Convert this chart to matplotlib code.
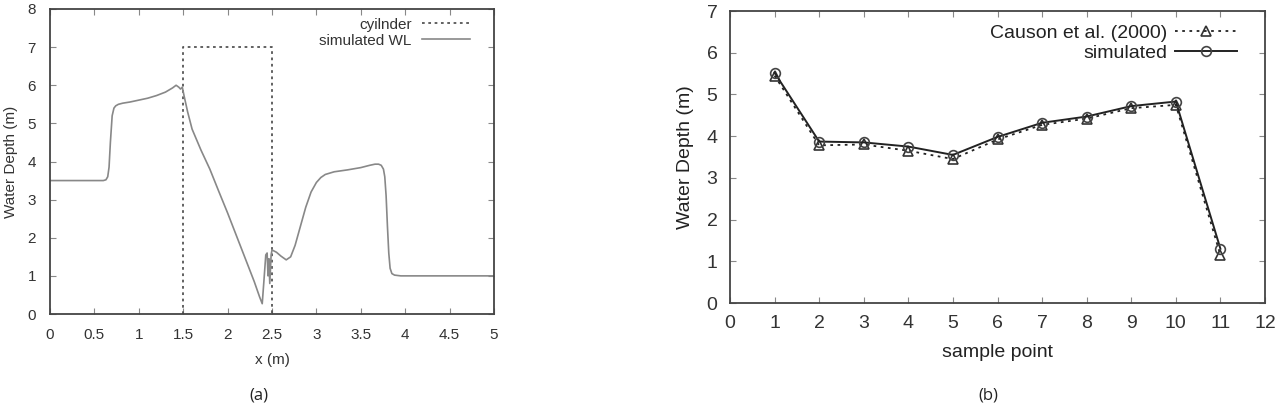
import matplotlib
matplotlib.use("Agg")
import matplotlib.pyplot as plt
import numpy as np

plt.rcParams['font.family'] = ['Liberation Sans', 'DejaVu Sans']

# (a) water level profile along the channel
x_wl = [0.0, 0.6, 0.63, 0.65, 0.665, 0.68, 0.70, 0.72, 0.74, 0.77, 0.82, 0.9, 1.0, 1.1,
        1.2, 1.3, 1.38, 1.42, 1.45, 1.47, 1.49, 1.51, 1.55, 1.6, 1.7, 1.8, 1.9, 2.0, 2.1,
        2.2, 2.3, 2.36, 2.39, 2.41, 2.43, 2.445, 2.455, 2.465, 2.475, 2.49, 2.5, 2.55, 2.6,
        2.66, 2.71, 2.76, 2.82, 2.88, 2.94, 3.0, 3.05, 3.1, 3.2, 3.35, 3.5, 3.6, 3.66, 3.7,
        3.73, 3.755, 3.77, 3.785, 3.8, 3.815, 3.83, 3.85, 3.88, 3.95, 4.2, 5.0]
y_wl = [3.5, 3.5, 3.52, 3.6, 3.85, 4.5, 5.2, 5.4, 5.46, 5.5, 5.53, 5.56, 5.61, 5.66,
        5.73, 5.82, 5.93, 6.0, 5.95, 5.9, 5.95, 5.72, 5.3, 4.85, 4.3, 3.8, 3.22, 2.65, 2.05,
        1.45, 0.85, 0.45, 0.27, 0.9, 1.55, 1.6, 1.0, 1.45, 0.8, 1.55, 1.68, 1.62, 1.52,
        1.42, 1.5, 1.8, 2.3, 2.8, 3.2, 3.45, 3.58, 3.66, 3.73, 3.78, 3.84, 3.9, 3.93, 3.93,
        3.9, 3.8, 3.6, 3.1, 2.3, 1.6, 1.2, 1.06, 1.02, 1.0, 1.0, 1.0]
cyl_x = [1.5, 1.5, 2.5, 2.5]
cyl_y = [0.0, 7.0, 7.0, 0.0]

# (b) water depth at sample points
points = [1, 2, 3, 4, 5, 6, 7, 8, 9, 10, 11]
causon = [5.45, 3.78, 3.8, 3.65, 3.45, 3.92, 4.27, 4.42, 4.67, 4.75, 1.15]
simulated = [5.52, 3.87, 3.85, 3.75, 3.55, 3.98, 4.32, 4.47, 4.72, 4.83, 1.3]

fig = plt.figure(figsize=(12.81, 4.16), dpi=100)
W, H = 1281, 416

def frame(ax, fs, pad):
    for s in ax.spines.values():
        s.set_color('#444444')
        s.set_linewidth(1.3)
    ax.tick_params(direction='in', top=True, right=True, length=4, width=0.8,
                   color='#888888', labelsize=fs, labelcolor='#333333', pad=pad)

ax1 = fig.add_axes([50 / W, 1 - 314 / H, 444 / W, 305 / H])
ax1.plot(cyl_x, cyl_y, color='#555555', lw=1.3, ls=(0, (1.5, 2)), label='cyilnder')
ax1.plot(x_wl, y_wl, color='#888888', lw=1.2, label='simulated WL')
ax1.set_xlim(0, 5)
ax1.set_ylim(0, 8)
ax1.set_xticks(np.arange(0, 5.01, 0.5))
ax1.set_xticklabels(['0', '0.5', '1', '1.5', '2', '2.5', '3', '3.5', '4', '4.5', '5'])
ax1.set_yticks(range(0, 9))
frame(ax1, 11, 10)
ax1.set_xlabel('x (m)', fontsize=11, color='#333333', labelpad=8)
ax1.set_ylabel('Water Depth (m)', fontsize=11, color='#333333', labelpad=7)
ax1.legend(loc='upper right', frameon=False, markerfirst=False, fontsize=11,
           handlelength=3.1, borderaxespad=0, labelspacing=0.15, handletextpad=0.7,
           labelcolor='#333333', bbox_to_anchor=(0.959, 0.992))

ax2 = fig.add_axes([730 / W, 1 - 303 / H, 535 / W, 292 / H])
ax2.plot(points, causon, color='#222222', lw=1.3, ls=(0, (1.5, 2.5)), marker='^',
         mfc='none', mec='#333333', ms=7, mew=1.2, label='Causon et al. (2000)')
ax2.plot(points, simulated, color='#222222', lw=1.4, marker='o',
         mfc='none', mec='#444444', ms=7, mew=1.2, label='simulated')
ax2.set_xlim(0, 12)
ax2.set_ylim(0, 7)
ax2.set_xticks(range(0, 13))
ax2.set_yticks(range(0, 8))
frame(ax2, 14, 9)
ax2.set_xlabel('sample point', fontsize=14, color='#222222', labelpad=8)
ax2.set_ylabel('Water Depth (m)', fontsize=14, color='#222222', labelpad=9)
ax2.legend(loc='upper right', frameon=False, markerfirst=False, fontsize=14,
           handlelength=3.2, borderaxespad=0, labelspacing=0.12, handletextpad=0.4,
           labelcolor='#222222', bbox_to_anchor=(0.963, 0.98))

fig.text(259 / W, 1 - 396 / H, '(a)', ha='center', va='center', fontsize=12,
         family='Open Sans', color='#222222')
fig.text(988 / W, 1 - 396 / H, '(b)', ha='center', va='center', fontsize=12,
         family='Open Sans', color='#222222')

fig.savefig('out.png', dpi=100)
